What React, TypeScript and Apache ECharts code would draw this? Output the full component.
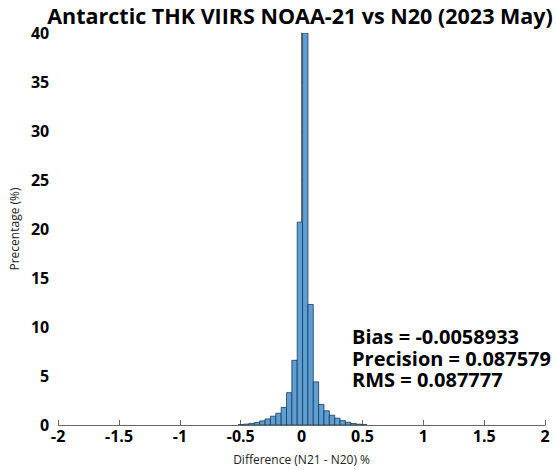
import React, { useEffect, useRef } from "react";
import * as echarts from "echarts";

const binWidth = 0.044;
const binLeft = [
  -0.52, -0.476, -0.432, -0.388, -0.344, -0.3, -0.256, -0.212, -0.168, -0.124, -0.08, -0.036,
  0.008, 0.052, 0.096, 0.14, 0.184, 0.228, 0.272, 0.316, 0.36, 0.404, 0.448, 0.492,
];
const percent = [
  0.04, 0.09, 0.16, 0.26, 0.42, 0.62, 0.9, 1.2, 1.8, 3.3, 6.6, 20.7,
  46, 12.3, 4.4, 2.1, 1.45, 1.0, 0.7, 0.45, 0.28, 0.16, 0.08, 0.04,
];
const statLines = ["Bias = -0.0058933", "Precision = 0.087579", "RMS = 0.087777"];
const titleText = "Antarctic THK VIIRS NOAA-21 vs N20 (2023 May)";
const xName = "Difference (N21 - N20) %";
const yName = "Precentage (%)";

export default function App() {
  const ref = useRef<HTMLDivElement>(null);
  useEffect(() => {
    if (!ref.current) return;
    const chart = echarts.init(ref.current, undefined, { renderer: "svg" });
    const data = binLeft.map((l, i) => [l, l + binWidth, percent[i]]);
    const font = "'Open Sans', 'Noto Sans', sans-serif";
    chart.setOption({
      animation: false,
      backgroundColor: "#ffffff",
      title: {
        text: titleText,
        left: 295,
        top: -1,
        textAlign: "center",
        textStyle: { fontSize: 21.5, fontWeight: "bold", color: "#000", fontFamily: font },
      },
      grid: { left: 52, right: 11, top: 33, bottom: 40, containLabel: false },
      xAxis: {
        type: "value",
        min: -2,
        max: 2,
        interval: 0.5,
        name: xName,
        nameLocation: "middle",
        nameGap: 28,
        nameTextStyle: { fontSize: 12, color: "#222", fontFamily: font },
        axisLine: { show: true, onZero: false, lineStyle: { color: "#666", width: 1 } },
        axisTick: { show: true, inside: true, length: 5, lineStyle: { color: "#666" } },
        axisLabel: {
          fontSize: 16,
          fontWeight: "bold",
          color: "#000",
          fontFamily: font,
          margin: 3,
          showMaxLabel: true,
          showMinLabel: true,
        },
        splitLine: { show: false },
      },
      yAxis: {
        type: "value",
        min: 0,
        max: 40,
        interval: 5,
        name: yName,
        nameLocation: "middle",
        nameGap: 31,
        nameTextStyle: { fontSize: 12, color: "#222", fontFamily: font },
        axisLine: { show: true, lineStyle: { color: "#666", width: 1 } },
        axisTick: { show: true, inside: true, length: 5, lineStyle: { color: "#666" } },
        axisLabel: { fontSize: 16, fontWeight: "bold", color: "#000", fontFamily: font, margin: 9 },
        splitLine: { show: false },
      },
      series: [
        {
          type: "custom",
          clip: true,
          encode: { x: [0, 1], y: 2 },
          data,
          renderItem: (params: any, api: any) => {
            const p0 = api.coord([api.value(0), api.value(2)]);
            const p1 = api.coord([api.value(1), 0]);
            const rect = {
              x: p0[0],
              y: p0[1],
              width: p1[0] - p0[0],
              height: p1[1] - p0[1],
            };
            const cs = params.coordSys;
            const clipped = echarts.graphic.clipRectByRect(rect, {
              x: cs.x,
              y: cs.y,
              width: cs.width,
              height: cs.height,
            });
            if (!clipped) return null;
            return {
              type: "rect",
              shape: clipped,
              style: { fill: "#5c9fd6", stroke: "#22364d", lineWidth: 0.8 },
            };
          },
        },
      ],
      graphic: [
        {
          type: "text",
          left: 352,
          top: 326,
          style: {
            text: statLines.join("\n"),
            fontSize: 20,
            lineHeight: 21.5,
            fontWeight: "bold",
            fill: "#000",
            fontFamily: font,
          },
        },
      ],
    });
    return () => chart.dispose();
  }, []);
  return (
    <div
      ref={ref}
      style={{ position: "fixed", left: 0, top: 0, width: 556, height: 470 }}
    />
  );
}
